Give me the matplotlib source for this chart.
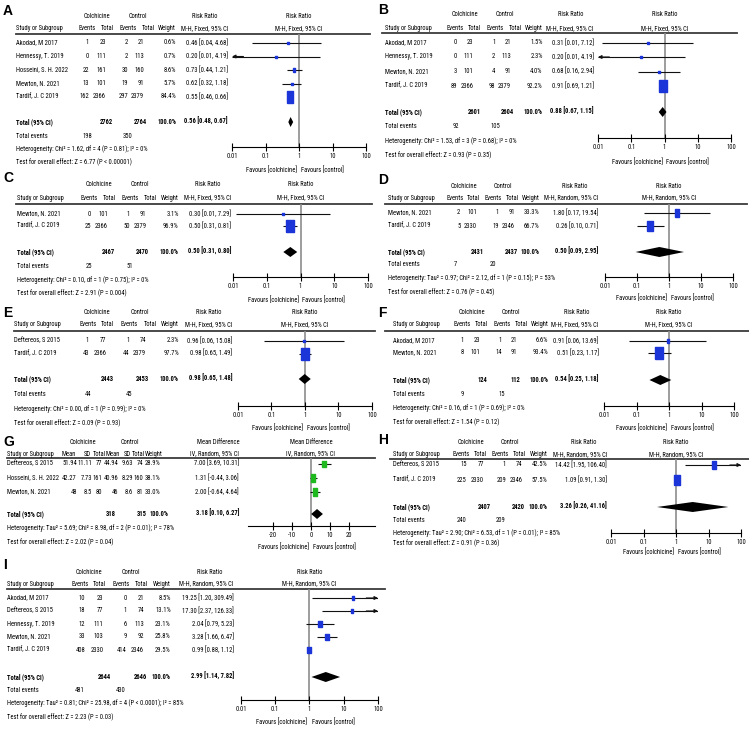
import os
import numpy as np
import matplotlib
matplotlib.use("Agg")
import matplotlib.pyplot as plt
from matplotlib import font_manager as fm

W, H = 749, 733

# pick a narrow / condensed sans face if one is installed
prefs = ["liberation sans narrow", "arial narrow", "roboto condensed", "open sans condensed",
         "noto sans condensed", "dejavu sans condensed", "dejavu sans"]
cands = []
for f in fm.fontManager.ttflist:
    nm = f.name.lower()
    fn = os.path.basename(f.fname).lower()
    if "mono" in nm or "serif" in nm or "italic" in fn or "oblique" in fn:
        continue
    st = str(f.stretch).lower()
    narrow = ("narrow" in nm or "condensed" in nm or "condensed" in st or "narrow" in fn
              or "condensed" in fn)
    if not narrow:
        continue
    key = nm if ("narrow" in nm or "condensed" in nm) else nm + " condensed"
    rank = prefs.index(key) if key in prefs else len(prefs)
    cands.append((rank, f.name, f.stretch))
if cands:
    cands.sort(key=lambda c: c[0])
    FONT_NAME, FONT_STRETCH = cands[0][1], cands[0][2]
else:
    FONT_NAME, FONT_STRETCH = "Liberation Sans", "normal"
plt.rcParams["font.family"] = [FONT_NAME, "DejaVu Sans"]
plt.rcParams["font.stretch"] = FONT_STRETCH

BLUE = "#1c35d8"
GREEN = "#1fb81f"
GREY = "#8c8c8c"

# ---------------- data ----------------
# A
a_study = ["Akodad, M 2017", "Hennessy, T. 2019", "Hosseini, S. H. 2022", "Mewton, N. 2021", "Tardif, J. C 2019"]
a_ev1 = [1, 0, 22, 13, 162]
a_n1 = [23, 111, 161, 101, 2366]
a_ev2 = [2, 2, 30, 19, 297]
a_n2 = [21, 113, 160, 91, 2379]
a_wt = [0.6, 0.7, 8.6, 5.7, 84.4]
a_rr = [0.46, 0.20, 0.73, 0.62, 0.55]
a_lo = [0.04, 0.0099, 0.44, 0.32, 0.46]
a_hi = [4.68, 4.19, 1.21, 1.18, 0.66]
a_tot_n = [2762, 2764]
a_tot_rr = [0.56, 0.48, 0.67]
a_events = [198, 350]
a_het = "Heterogeneity: Chi² = 1.62, df = 4 (P = 0.81); I² = 0%"
a_test = "Test for overall effect: Z = 6.77 (P < 0.00001)"

# B
b_study = ["Akodad, M 2017", "Hennessy, T. 2019", "Mewton, N. 2021", "Tardif, J. C 2019"]
b_ev1 = [0, 0, 3, 89]
b_n1 = [23, 111, 101, 2366]
b_ev2 = [1, 2, 4, 98]
b_n2 = [21, 113, 91, 2379]
b_wt = [1.5, 2.3, 4.0, 92.2]
b_rr = [0.31, 0.20, 0.68, 0.91]
b_lo = [0.0131, 0.0099, 0.16, 0.69]
b_hi = [7.12, 4.19, 2.94, 1.21]
b_tot_n = [2601, 2604]
b_tot_rr = [0.88, 0.67, 1.15]
b_events = [92, 105]
b_het = "Heterogeneity: Chi² = 1.53, df = 3 (P = 0.68); I² = 0%"
b_test = "Test for overall effect: Z = 0.93 (P = 0.35)"

# C
c_study = ["Mewton, N. 2021", "Tardif, J. C 2019"]
c_ev1 = [0, 25]
c_n1 = [101, 2366]
c_ev2 = [1, 50]
c_n2 = [91, 2379]
c_wt = [3.1, 96.9]
c_rr = [0.30, 0.50]
c_lo = [0.0124, 0.31]
c_hi = [7.29, 0.81]
c_tot_n = [2467, 2470]
c_tot_rr = [0.50, 0.31, 0.80]
c_events = [25, 51]
c_het = "Heterogeneity: Chi² = 0.10, df = 1 (P = 0.75); I² = 0%"
c_test = "Test for overall effect: Z = 2.91 (P = 0.004)"

# D
d_study = ["Mewton, N. 2021", "Tardif, J. C 2019"]
d_ev1 = [2, 5]
d_n1 = [101, 2330]
d_ev2 = [1, 19]
d_n2 = [91, 2346]
d_wt = [33.3, 66.7]
d_rr = [1.80, 0.26]
d_lo = [0.17, 0.10]
d_hi = [19.54, 0.71]
d_tot_n = [2431, 2437]
d_tot_rr = [0.50, 0.09, 2.95]
d_events = [7, 20]
d_het = "Heterogeneity: Tau² = 0.97; Chi² = 2.12, df = 1 (P = 0.15); I² = 53%"
d_test = "Test for overall effect: Z = 0.76 (P = 0.45)"

# E
e_study = ["Deftereos, S 2015", "Tardif, J. C 2019"]
e_ev1 = [1, 43]
e_n1 = [77, 2366]
e_ev2 = [1, 44]
e_n2 = [74, 2379]
e_wt = [2.3, 97.7]
e_rr = [0.96, 0.98]
e_lo = [0.06, 0.65]
e_hi = [15.08, 1.49]
e_tot_n = [2443, 2453]
e_tot_rr = [0.98, 0.65, 1.48]
e_events = [44, 45]
e_het = "Heterogeneity: Chi² = 0.00, df = 1 (P = 0.99); I² = 0%"
e_test = "Test for overall effect: Z = 0.09 (P = 0.93)"

# F
f_study = ["Akodad, M 2017", "Mewton, N. 2021"]
f_ev1 = [1, 8]
f_n1 = [23, 101]
f_ev2 = [1, 14]
f_n2 = [21, 91]
f_wt = [6.6, 93.4]
f_rr = [0.91, 0.51]
f_lo = [0.06, 0.23]
f_hi = [13.69, 1.17]
f_tot_n = [124, 112]
f_tot_rr = [0.54, 0.25, 1.18]
f_events = [9, 15]
f_het = "Heterogeneity: Chi² = 0.16, df = 1 (P = 0.69); I² = 0%"
f_test = "Test for overall effect: Z = 1.54 (P = 0.12)"

# G (mean difference)
g_study = ["Deftereos, S 2015", "Hosseini, S. H. 2022", "Mewton, N. 2021"]
g_m1 = ["51.94", "42.27", "48"]
g_sd1 = ["11.11", "7.73", "8.5"]
g_n1 = [77, 161, 80]
g_m2 = ["44.94", "40.96", "46"]
g_sd2 = ["9.63", "8.29", "8.6"]
g_n2 = [74, 160, 81]
g_wt = [28.9, 38.1, 33.0]
g_md = [7.00, 1.31, 2.00]
g_lo = [3.69, -0.44, -0.64]
g_hi = [10.31, 3.06, 4.64]
g_tot_n = [318, 315]
g_tot_md = [3.18, 0.10, 6.27]
g_het = "Heterogeneity: Tau² = 5.69; Chi² = 8.98, df = 2 (P = 0.01); I² = 78%"
g_test = "Test for overall effect: Z = 2.02 (P = 0.04)"

# H
h_study = ["Deftereos, S 2015", "Tardif, J. C 2019"]
h_ev1 = [15, 225]
h_n1 = [77, 2330]
h_ev2 = [1, 209]
h_n2 = [74, 2346]
h_wt = [42.5, 57.5]
h_rr = [14.42, 1.09]
h_lo = [1.95, 0.91]
h_hi = [106.40, 1.30]
h_tot_n = [2407, 2420]
h_tot_rr = [3.26, 0.26, 41.16]
h_events = [240, 209]
h_het = "Heterogeneity: Tau² = 2.90; Chi² = 6.53, df = 1 (P = 0.01); I² = 85%"
h_test = "Test for overall effect: Z = 0.91 (P = 0.36)"

# I
i_study = ["Akodad, M 2017", "Deftereos, S 2015", "Hennessy, T. 2019", "Mewton, N. 2021", "Tardif, J. C 2019"]
i_ev1 = [10, 18, 12, 33, 408]
i_n1 = [23, 77, 111, 103, 2330]
i_ev2 = [0, 1, 6, 9, 414]
i_n2 = [21, 74, 113, 92, 2346]
i_wt = [8.5, 13.1, 23.1, 25.8, 29.5]
i_rr = [19.25, 17.30, 2.04, 3.28, 0.99]
i_lo = [1.20, 2.37, 0.79, 1.66, 0.88]
i_hi = [309.49, 126.33, 5.23, 6.47, 1.12]
i_tot_n = [2644, 2646]
i_tot_rr = [2.99, 1.14, 7.82]
i_events = [481, 430]
i_het = "Heterogeneity: Tau² = 0.81; Chi² = 25.98, df = 4 (P < 0.0001); I² = 85%"
i_test = "Test for overall effect: Z = 2.23 (P = 0.03)"

FIXED = "M-H, Fixed, 95% CI"
RANDOM = "M-H, Random, 95% CI"

# ---------------- layout (pixel positions) ----------------
LAY_A = dict(lab=(3, 11), sx=16, s=1.0, f0=232, f1=366, lx=(16, 370), yh1=16, yh2=29, yl=34,
             rows=[43, 56.5, 70, 83.5, 97], ytot=122, yev=137, yhet=149, ytest=162, yax=147, yfav=170)
LAY_B = dict(lab=(378, 10), sx=385, s=0.985, f0=598, f1=731, lx=(382, 737), yh1=15, yh2=29, yl=33,
             rows=[43, 57, 71.5, 86], ytot=112, yev=127, yhet=141, ytest=155, yax=138, yfav=162)
LAY_C = dict(lab=(3, 178), sx=17, s=1.01, f0=233, f1=368, lx=(16, 372), yh1=185, yh2=198, yl=204,
             rows=[214, 226], ytot=252, yev=266, yhet=280, ytest=293, yax=277, yfav=300)
LAY_D = dict(lab=(378, 180), sx=388, s=0.99, f0=605, f1=733, lx=(385, 747), yh1=186, yh2=198, yl=204,
             rows=[213, 226], ytot=252, yev=265, yhet=278, ytest=292, yax=277, yfav=298,
             wr=153, hs=0.95)
LAY_E = dict(lab=(3, 313), sx=14, s=1.03, f0=238, f1=372, lx=(14, 375), yh1=313, yh2=325, yl=331,
             rows=[341, 353.5], ytot=379, yev=395, yhet=409, ytest=423, yax=406, yfav=428)
LAY_F = dict(lab=(378, 313), sx=393, s=0.97, f0=604, f1=734, lx=(385, 749), yh1=313, yh2=325, yl=331,
             rows=[341, 353], ytot=380, yev=395, yhet=408, ytest=422, yax=406, yfav=428)
LAY_H = dict(lab=(378, 440), sx=393, s=1.01, f0=611, f1=741, lx=(390, 749), yh1=443, yh2=455, yl=459,
             rows=[465, 480], ytot=507, yev=521, yhet=533, ytest=543, yax=533, yfav=552,
             wr=153, hs=0.95)
LAY_I = dict(lab=(3, 565), sx=7, s=1.07, f0=241, f1=378, lx=(7, 385), yh1=572, yh2=584, yl=589,
             rows=[598, 611, 624, 637, 650], ytot=677, yev=690, yhet=703, ytest=717, yax=700, yfav=722,
             wr=153, hs=0.95)

RECT = [(-0.3, -0.5), (0.3, -0.5), (0.3, 0.5), (-0.3, 0.5), (-0.3, -0.5)]

fig = plt.figure(figsize=(W / 100, H / 100), dpi=100)

# size the table font so a heterogeneity line spans about 130 px, as in the reference
_r = fig.canvas.get_renderer()
_t = fig.text(0, 0, a_het, fontsize=10)
_w10 = _t.get_window_extent(renderer=_r).width
_t.remove()
FS = min(7.5, 10 * 130 / _w10)
plt.rcParams["font.size"] = FS

bg = fig.add_axes([0, 0, 1, 1])
bg.set_xlim(0, W)
bg.set_ylim(H, 0)
bg.axis("off")


def txt(x, y, s, ha="left", bold=False):
    bg.text(x, y, s, ha=ha, va="center", fontsize=FS,
            fontweight="bold" if bold else "normal")


def letter(lay, s):
    bg.text(lay["lab"][0], lay["lab"][1], s, ha="left", va="center", fontsize=10,
            fontweight="bold", fontstretch="normal", family=["Liberation Sans", "DejaVu Sans"])


def forest_axes(x0, x1, ytop, yax):
    ax = fig.add_axes([x0 / W, 1 - yax / H, (x1 - x0) / W, (yax - ytop) / H])
    ax.patch.set_visible(False)
    for sp in ("top", "left", "right"):
        ax.spines[sp].set_visible(False)
    ax.spines["bottom"].set_linewidth(0.8)
    ax.set_ylim(yax, ytop)
    ax.set_yticks([])
    ax.tick_params(axis="x", which="major", direction="inout", length=6, width=0.8,
                   labelsize=FS, pad=1.5)
    ax.tick_params(axis="x", which="minor", length=0)
    return ax


def draw_study(ax, y, est, lo, hi, wt, col, xmin, xmax, logx=True):
    l2, h2 = max(lo, xmin), min(hi, xmax)
    ax.plot([l2, h2], [y, y], color="#111111", lw=0.8, zorder=2, solid_capstyle="butt")
    if lo < xmin:
        inner = xmin * 2.2 if logx else xmin + 3
        ax.annotate("", xy=(xmin, y), xytext=(inner, y),
                    arrowprops=dict(arrowstyle="-|>", lw=0.8, color="#111111",
                                    mutation_scale=5, shrinkA=0, shrinkB=0))
    if hi > xmax:
        inner = xmax / 2.2 if logx else xmax - 3
        ax.annotate("", xy=(xmax, y), xytext=(inner, y),
                    arrowprops=dict(arrowstyle="-|>", lw=0.8, color="#111111",
                                    mutation_scale=5, shrinkA=0, shrinkB=0))
    size_px = max(2.0, 1.25 * np.sqrt(wt))
    ax.plot(est, y, marker=RECT, ms=size_px * 0.72, color=col, mec=col, zorder=3,
            linestyle="none", clip_on=False)


def draw_diamond(ax, y, est, lo, hi):
    ax.fill([lo, est, hi, est], [y, y - 5, y, y + 5], color="black", zorder=3, lw=0)


def rr_panel(lab, lay, method, study, ev1, n1, ev2, n2, wt, rr, lo, hi,
             tot_n, tot_rr, events, het, test):
    sx, s = lay["sx"], lay["s"]
    wr = lay.get("wr", 160)
    hs = lay.get("hs", 1.0)

    def X(r):
        return sx + s * r

    letter(lay, lab)
    xc = lay["f0"] + (lay["f1"] - lay["f0"]) / 2
    # headers
    txt(X(81 * hs), lay["yh1"], "Colchicine", "center")
    txt(X(122 * hs), lay["yh1"], "Control", "center")
    txt(X(189), lay["yh1"], "Risk Ratio", "center")
    txt(xc, lay["yh1"], "Risk Ratio", "center")
    txt(sx, lay["yh2"], "Study or Subgroup")
    txt(X(71.5 * hs), lay["yh2"], "Events", "center")
    txt(X(91 * hs), lay["yh2"], "Total", "center")
    txt(X(112 * hs), lay["yh2"], "Events", "center")
    txt(X(132 * hs), lay["yh2"], "Total", "center")
    txt(X(wr), lay["yh2"], "Weight", "right")
    txt(X(212), lay["yh2"], method, "right")
    txt(xc, lay["yh2"], method, "center")
    bg.plot(lay["lx"], [lay["yl"], lay["yl"]], color="#3c3c3c", lw=1.3)

    for i, y in enumerate(lay["rows"]):
        txt(sx, y, study[i])
        txt(X(73), y, str(ev1[i]), "right")
        txt(X(90), y, str(n1[i]), "right")
        txt(X(112), y, str(ev2[i]), "right")
        txt(X(128), y, str(n2[i]), "right")
        txt(X(wr), y, f"{wt[i]:.1f}%", "right")
        txt(X(212), y, f"{rr[i]:.2f} [{lo[i]:.2f}, {hi[i]:.2f}]", "right")

    txt(sx, lay["ytot"], "Total (95% CI)", bold=True)
    txt(X(97), lay["ytot"], str(tot_n[0]), "right", bold=True)
    txt(X(131), lay["ytot"], str(tot_n[1]), "right", bold=True)
    txt(X(wr), lay["ytot"], "100.0%", "right", bold=True)
    txt(X(212), lay["ytot"], f"{tot_rr[0]:.2f} [{tot_rr[1]:.2f}, {tot_rr[2]:.2f}]", "right", bold=True)
    txt(sx, lay["yev"], "Total events")
    txt(X(71.5 * hs), lay["yev"], str(events[0]), "center")
    txt(X(112 * hs), lay["yev"], str(events[1]), "center")
    txt(sx, lay["yhet"], het)
    txt(sx, lay["ytest"], test)

    ax = forest_axes(lay["f0"], lay["f1"], lay["yl"], lay["yax"])
    ax.set_xscale("log")
    ax.set_xlim(0.01, 100)
    ax.set_xticks([0.01, 0.1, 1, 10, 100])
    ax.set_xticklabels(["0.01", "0.1", "1", "10", "100"])
    ax.axvline(1, color=GREY, lw=1.2, zorder=1)
    for i, y in enumerate(lay["rows"]):
        draw_study(ax, y, rr[i], lo[i], hi[i], wt[i], BLUE, 0.01, 100)
    draw_diamond(ax, lay["ytot"], tot_rr[0], tot_rr[1], tot_rr[2])
    txt(xc - 2, lay["yfav"], "Favours [colchicine]", "right")
    txt(xc + 2, lay["yfav"], "Favours [control]", "left")


rr_panel("A", LAY_A, FIXED, a_study, a_ev1, a_n1, a_ev2, a_n2, a_wt, a_rr, a_lo, a_hi,
         a_tot_n, a_tot_rr, a_events, a_het, a_test)
rr_panel("B", LAY_B, FIXED, b_study, b_ev1, b_n1, b_ev2, b_n2, b_wt, b_rr, b_lo, b_hi,
         b_tot_n, b_tot_rr, b_events, b_het, b_test)
rr_panel("C", LAY_C, FIXED, c_study, c_ev1, c_n1, c_ev2, c_n2, c_wt, c_rr, c_lo, c_hi,
         c_tot_n, c_tot_rr, c_events, c_het, c_test)
rr_panel("D", LAY_D, RANDOM, d_study, d_ev1, d_n1, d_ev2, d_n2, d_wt, d_rr, d_lo, d_hi,
         d_tot_n, d_tot_rr, d_events, d_het, d_test)
rr_panel("E", LAY_E, FIXED, e_study, e_ev1, e_n1, e_ev2, e_n2, e_wt, e_rr, e_lo, e_hi,
         e_tot_n, e_tot_rr, e_events, e_het, e_test)
rr_panel("F", LAY_F, FIXED, f_study, f_ev1, f_n1, f_ev2, f_n2, f_wt, f_rr, f_lo, f_hi,
         f_tot_n, f_tot_rr, f_events, f_het, f_test)
rr_panel("H", LAY_H, RANDOM, h_study, h_ev1, h_n1, h_ev2, h_n2, h_wt, h_rr, h_lo, h_hi,
         h_tot_n, h_tot_rr, h_events, h_het, h_test)
rr_panel("I", LAY_I, RANDOM, i_study, i_ev1, i_n1, i_ev2, i_n2, i_wt, i_rr, i_lo, i_hi,
         i_tot_n, i_tot_rr, i_events, i_het, i_test)

# ---------------- panel G (mean difference) ----------------
letter(dict(lab=(3, 442)), "G")
gy = dict(yh1=443, yh2=454, yl=458, rows=[463.5, 478, 492], ytot=514, yhet=528, ytest=542, yax=526)
txt(83, gy["yh1"], "Colchicine", "center")
txt(130, gy["yh1"], "Control", "center")
txt(218, gy["yh1"], "Mean Difference", "center")
txt(311, gy["yh1"], "Mean Difference", "center")
txt(7, gy["yh2"], "Study or Subgroup")
for xh, lbl in zip([69, 87, 99.5, 113, 127, 138], ["Mean", "SD", "Total", "Mean", "SD", "Total"]):
    txt(xh, gy["yh2"], lbl, "center")
txt(163, gy["yh2"], "Weight", "right")
txt(239, gy["yh2"], "IV, Random, 95% CI", "right")
txt(311, gy["yh2"], "IV, Random, 95% CI", "center")
bg.plot([7, 375], [gy["yl"], gy["yl"]], color="#3c3c3c", lw=1.3)
for i, y in enumerate(gy["rows"]):
    txt(7, y, g_study[i])
    txt(77, y, g_m1[i], "right")
    txt(92, y, g_sd1[i], "right")
    txt(102, y, str(g_n1[i]), "right")
    txt(118, y, g_m2[i], "right")
    txt(133, y, g_sd2[i], "right")
    txt(143, y, str(g_n2[i]), "right")
    txt(160, y, f"{g_wt[i]:.1f}%", "right")
    txt(239, y, f"{g_md[i]:.2f} [{g_lo[i]:.2f}, {g_hi[i]:.2f}]", "right")
txt(7, gy["ytot"], "Total (95% CI)", bold=True)
txt(116, gy["ytot"], str(g_tot_n[0]), "right", bold=True)
txt(147, gy["ytot"], str(g_tot_n[1]), "right", bold=True)
txt(168, gy["ytot"], "100.0%", "right", bold=True)
txt(239, gy["ytot"], f"{g_tot_md[0]:.2f} [{g_tot_md[1]:.2f}, {g_tot_md[2]:.2f}]", "right", bold=True)
txt(7, gy["yhet"], g_het)
txt(7, gy["ytest"], g_test)

px_m20, px_p20 = 273, 349
ppu = (px_p20 - px_m20) / 40
gx0, gx1 = 248, 375
gax = forest_axes(gx0, gx1, gy["yl"], gy["yax"])
gax.set_xlim(-20 - (px_m20 - gx0) / ppu, 20 + (gx1 - px_p20) / ppu)
gax.set_xticks([-20, -10, 0, 10, 20])
gax.set_xticklabels(["-20", "-10", "0", "10", "20"])
gax.axvline(0, color=GREY, lw=1.2, zorder=1)
for i, y in enumerate(gy["rows"]):
    draw_study(gax, y, g_md[i], g_lo[i], g_hi[i], g_wt[i], GREEN, -100, 100, logx=False)
draw_diamond(gax, gy["ytot"], g_tot_md[0], g_tot_md[1], g_tot_md[2])
txt(311 - 2, 547, "Favours [colchicine]", "right")
txt(311 + 2, 547, "Favours [control]", "left")

fig.savefig("out.png", dpi=100)
